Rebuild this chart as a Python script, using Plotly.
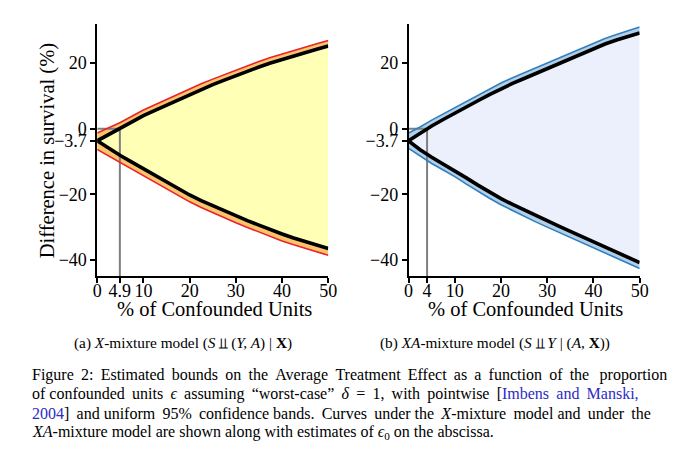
import plotly.graph_objects as go

# ---------------- data ----------------
eps = [0, 2.5, 5, 7.5, 10, 12.5, 15, 17.5, 20, 22.5, 25, 27.5, 30, 32.5, 35, 37.5, 40, 42.5, 45, 47.5, 50]

# (a) X-mixture model
a_upper = [-3.7, -1.7, 0.1, 2.1, 4.0, 5.6, 7.2, 8.9, 10.5, 12.0, 13.4, 14.8, 16.2, 17.5, 18.8, 20.0, 21.1, 22.2, 23.2, 24.2, 25.2]
a_lower = [-3.7, -6.0, -8.2, -10.2, -12.2, -14.2, -16.3, -18.3, -20.2, -21.9, -23.5, -25.1, -26.6, -28.0, -29.4, -30.8, -32.1, -33.3, -34.4, -35.5, -36.5]
a_upper_band = [-1.3, 0.2, 1.9, 3.8, 5.7, 7.3, 8.9, 10.6, 12.2, 13.7, 15.1, 16.5, 17.9, 19.2, 20.5, 21.7, 22.8, 23.9, 24.9, 25.9, 26.9]
a_lower_band = [-6.3, -8.3, -10.3, -12.3, -14.3, -16.3, -18.4, -20.4, -22.3, -24.0, -25.6, -27.2, -28.7, -30.1, -31.5, -32.9, -34.2, -35.4, -36.5, -37.6, -38.6]
a_eps0 = 4.9

# (b) XA-mixture model
b_upper = [-3.7, -1.4, 0.8, 2.8, 4.6, 6.6, 8.5, 10.4, 12.2, 13.8, 15.3, 16.8, 18.3, 19.8, 21.4, 22.9, 24.4, 25.8, 27.0, 28.2, 29.2]
b_lower = [-3.7, -6.4, -8.7, -10.7, -12.7, -15.0, -17.2, -19.3, -21.3, -23.1, -24.8, -26.5, -28.1, -29.7, -31.3, -32.9, -34.5, -36.1, -37.7, -39.3, -40.8]
b_upper_band = [-1.3, 0.5, 2.6, 4.5, 6.3, 8.3, 10.2, 12.1, 13.9, 15.5, 17.0, 18.5, 20.0, 21.5, 23.1, 24.6, 26.1, 27.5, 28.7, 29.9, 31.0]
b_lower_band = [-6.0, -8.4, -10.6, -12.6, -14.6, -16.9, -19.1, -21.2, -23.2, -25.0, -26.7, -28.4, -30.0, -31.6, -33.2, -34.8, -36.4, -38.0, -39.6, -41.2, -42.6]
b_eps0 = 4

y_ticks = [-40, -20, -3.7, 0, 20]
y_ticktext = ["\u221240", "\u221220", "\u22123.7", "0", "20"]
a_xticks = [0, 4.9, 10, 20, 30, 40, 50]
b_xticks = [0, 4, 10, 20, 30, 40, 50]

Y_RANGE = [-44.9, 31.9]
OFF = 8                      # page body margin of the html page
W, H = 680 - OFF, 455 - OFF
FONT = "Liberation Serif"

fig = go.Figure()


def add_panel(xa, ya, upper, lower, ub, lb, eps0, fill_col, band_col, edge_col):
    fig.add_trace(go.Scatter(x=eps, y=lb, mode="lines", line=dict(width=0), xaxis=xa, yaxis=ya,
                             showlegend=False, hoverinfo="skip"))
    fig.add_trace(go.Scatter(x=eps, y=ub, mode="lines", line=dict(width=0), fill="tonexty",
                             fillcolor=fill_col, xaxis=xa, yaxis=ya, showlegend=False, hoverinfo="skip"))
    fig.add_trace(go.Scatter(x=eps, y=upper, mode="lines", line=dict(width=0), xaxis=xa, yaxis=ya,
                             showlegend=False, hoverinfo="skip"))
    fig.add_trace(go.Scatter(x=eps, y=ub, mode="lines", line=dict(width=0), fill="tonexty",
                             fillcolor=band_col, xaxis=xa, yaxis=ya, showlegend=False, hoverinfo="skip"))
    fig.add_trace(go.Scatter(x=eps, y=lower, mode="lines", line=dict(width=0), xaxis=xa, yaxis=ya,
                             showlegend=False, hoverinfo="skip"))
    fig.add_trace(go.Scatter(x=eps, y=lb, mode="lines", line=dict(width=0), fill="tonexty",
                             fillcolor=band_col, xaxis=xa, yaxis=ya, showlegend=False, hoverinfo="skip"))
    fig.add_trace(go.Scatter(x=[0, eps0, eps0], y=[0, 0, Y_RANGE[0]], mode="lines",
                             line=dict(color="#7f7f7f", width=2), xaxis=xa, yaxis=ya,
                             showlegend=False, hoverinfo="skip"))
    for yy in (ub, lb):
        fig.add_trace(go.Scatter(x=eps, y=yy, mode="lines", line=dict(color=edge_col, width=1.6),
                                 xaxis=xa, yaxis=ya, showlegend=False, hoverinfo="skip"))
    for yy in (upper, lower):
        fig.add_trace(go.Scatter(x=eps, y=yy, mode="lines", line=dict(color="black", width=3.6),
                                 xaxis=xa, yaxis=ya, showlegend=False, hoverinfo="skip"))


add_panel("x", "y", a_upper, a_lower, a_upper_band, a_lower_band, a_eps0,
          "#ffffb6", "#fbc46c", "#e8232a")
add_panel("x2", "y2", b_upper, b_lower, b_upper_band, b_lower_band, b_eps0,
          "#ebf0fc", "#b3cfe8", "#2f7fc1")


def axis_common():
    return dict(showline=True, linecolor="black", linewidth=1.5, ticks="outside", ticklen=5,
                tickwidth=1.5, tickcolor="black", showgrid=False, zeroline=False,
                tickfont=dict(family=FONT, size=18, color="black"), mirror=False)


px = lambda p: (p - OFF) / W
py = lambda p: 1 - (p - OFF) / H

fig.update_layout(
    width=W, height=H, margin=dict(l=0, r=0, t=0, b=0),
    paper_bgcolor="white", plot_bgcolor="white",
    font=dict(family=FONT, color="black", size=18),
    xaxis=dict(domain=[px(94), px(330)], range=[0, 50], tickvals=a_xticks,
               ticktext=[str(v) for v in a_xticks], anchor="y", ticklabelstandoff=-7, **axis_common()),
    yaxis=dict(domain=[py(276), py(24)], range=Y_RANGE, tickvals=y_ticks, ticktext=y_ticktext,
               anchor="x", **axis_common()),
    xaxis2=dict(domain=[px(412), px(648)], range=[0, 50], tickvals=b_xticks,
                ticktext=[str(v) for v in b_xticks], anchor="y2", ticklabelstandoff=-7, **axis_common()),
    yaxis2=dict(domain=[py(276), py(24)], range=Y_RANGE, tickvals=y_ticks, ticktext=y_ticktext,
                anchor="x2", **axis_common()),
)

ann = []
ann.append(dict(text="Difference in survival (%)", x=px(44), y=py(151), textangle=-90,
                font=dict(size=20.5)))
ann.append(dict(text="% of Confounded Units", x=px(214), y=py(309), font=dict(size=20.5)))
ann.append(dict(text="% of Confounded Units", x=px(531), y=py(309), font=dict(size=20.5)))
ann.append(dict(text="(a) <i>X</i>-mixture model (<i>S</i> \u2AEB (<i>Y, A</i>) | <b>X</b>)",
                x=px(182), y=py(343), font=dict(size=15.3)))
ann.append(dict(text="(b) <i>XA</i>-mixture model (<i>S</i> \u2AEB <i>Y</i> | (<i>A</i>, <b>X</b>))",
                x=px(500), y=py(343), font=dict(size=15.3)))

LINK = "#2b2bc4"
THIN = "\u2009"


def justify(line, n_extra):
    words = line.split(" ")
    gaps = len(words) - 1
    out = words[0]
    for i, w in enumerate(words[1:]):
        k = (n_extra * (i + 1)) // gaps - (n_extra * i) // gaps
        out += " " + THIN * k + w
    return out


cap_lines = [
    justify("Figure 2: Estimated bounds on the Average Treatment Effect as a function of the proportion", 15),
    justify("of confounded units <i>\u03f5</i> assuming \u201cworst-case\u201d <i>\u03b4</i> = 1, with pointwise "
            "[<span style='color:" + LINK + "'>Imbens and Manski,</span>", 13),
    justify("<span style='color:" + LINK + "'>2004</span>] and uniform 95% confidence bands. Curves under the "
            "<i>X</i>-mixture model and under the", 9),
    "<i>XA</i>-mixture model are shown along with estimates of <i>\u03f5</i><sub>0</sub> on the abscissa.",
]
cap_y = [375, 394, 413, 432]
for t, yy in zip(cap_lines, cap_y):
    ann.append(dict(text=t, x=px(25), y=py(yy), xanchor="left", font=dict(size=16)))

for a in ann:
    a.setdefault("xanchor", "center")
    a.update(xref="paper", yref="paper", yanchor="middle", showarrow=False)
    a["font"] = dict(family=FONT, color="black", **a["font"])
fig.update_layout(annotations=ann)

fig.write_html("out.html")
